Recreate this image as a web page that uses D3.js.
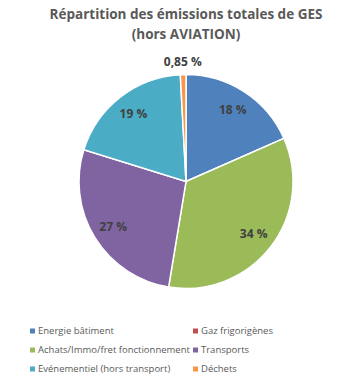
<!DOCTYPE html>
<html><head><meta charset="utf-8">
<script src="https://cdn.jsdelivr.net/npm/d3@7/dist/d3.min.js"></script>
<style>body{margin:0;background:#fff}svg{display:block}</style>
</head><body><svg id="c" width="348" height="380"></svg>
<script>
const categories = ["Energie bâtiment","Gaz frigorigènes","Achats/Immo/fret fonctionnement","Transports","Evénementiel (hors transport)","Déchets"];
const values = [18.4, 0, 34.2, 27.2, 19.35, 0.85];
const labels = ["18 %","","34 %","27 %","19 %","0,85 %"];
const colors = ["#4f81bd","#c0504d","#9bbb59","#8064a2","#4bacc6","#f79646"];
const titleLines = ["Répartition des émissions totales de GES","(hors AVIATION)"];

const svg = d3.select("#c");
const font = "'Open Sans', sans-serif";
const cx = 186, cy = 181.5, R = 107;

svg.selectAll("text.title").data(titleLines).enter().append("text")
  .attr("class","title").attr("x",186).attr("y",(d,i)=>19+i*19.5)
  .attr("text-anchor","middle").attr("font-family",font).attr("font-weight","bold")
  .attr("font-size",13.5).attr("fill","#595959").text(d=>d);

const pie = d3.pie().sort(null).value(d=>d)(values);
const arc = d3.arc().innerRadius(0).outerRadius(R);
const g = svg.append("g").attr("transform",`translate(${cx},${cy})`);
g.selectAll("path").data(pie).enter().append("path")
  .attr("d",arc).attr("fill",(d,i)=>colors[i])
  .attr("stroke","#fff").attr("stroke-width",1.5);

const inner = d3.arc().innerRadius(R*0.8).outerRadius(R*0.8);
const outer = d3.arc().innerRadius(R*1.12).outerRadius(R*1.12);
g.selectAll("text.lab").data(pie).enter().append("text")
  .attr("class","lab")
  .attr("transform",(d,i)=>`translate(${(values[i]<2?outer:inner).centroid(d)})`)
  .attr("dy","0.35em").attr("text-anchor","middle")
  .attr("font-family",font).attr("font-weight","bold").attr("font-size",12)
  .attr("fill","#404040").text((d,i)=>labels[i]);

const colX = [30,193], rowY = [331,350,369];
const leg = svg.selectAll("g.leg").data(categories).enter().append("g")
  .attr("class","leg")
  .attr("transform",(d,i)=>`translate(${colX[i%2]},${rowY[Math.floor(i/2)]})`);
leg.append("rect").attr("x",0).attr("y",-2.5).attr("width",5).attr("height",5)
  .attr("fill",(d,i)=>colors[i]);
leg.append("text").attr("x",8).attr("y",0).attr("dy","0.35em")
  .attr("font-family",font).attr("font-size",9.5).attr("fill","#595959").text(d=>d);
</script></body></html>
